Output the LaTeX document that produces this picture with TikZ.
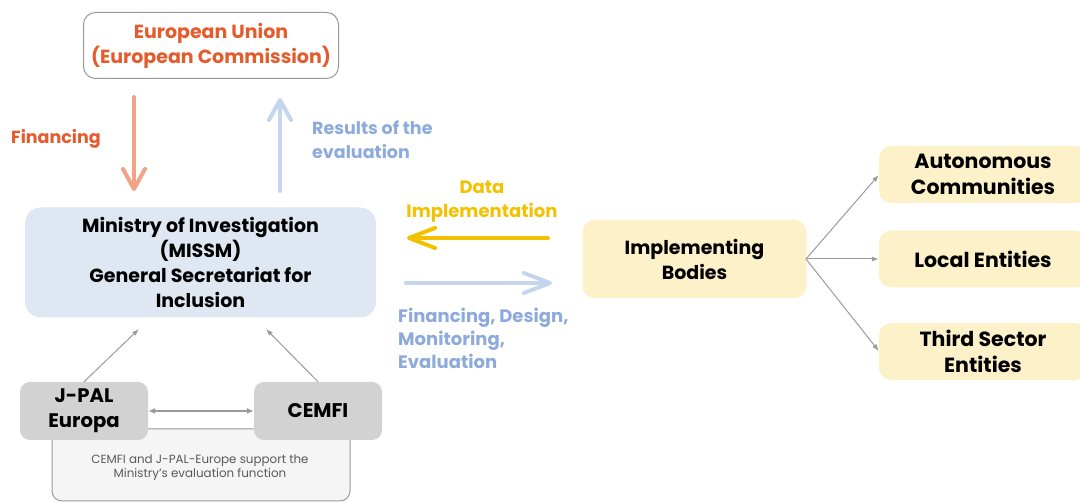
\documentclass[tikz,border=0pt]{standalone}
\usepackage{fontspec}
\setmainfont{Poppins}
\usetikzlibrary{arrows.meta}
\definecolor{euorange}{HTML}{E55B2B}
\definecolor{finarrow}{HTML}{F0A386}
\definecolor{resarrow}{HTML}{C5D5EE}
\definecolor{restext}{HTML}{8DAADC}
\definecolor{minfill}{HTML}{DFE7F3}
\definecolor{yel}{HTML}{F2C200}
\definecolor{impfill}{HTML}{FDF1C9}
\definecolor{greybox}{HTML}{D2D2D2}
\definecolor{botfill}{HTML}{F5F5F5}
\definecolor{lgrey}{HTML}{9A9A9A}
\begin{document}
\begin{tikzpicture}[x=1pt,y=-1pt,
  lbl/.style={font=\bfseries\fontsize{17.5}{24}\selectfont, align=center, inner sep=0pt},
  boxn/.style={rounded corners=12pt, inner sep=0pt, align=center},
  bigarrow/.style={line width=4pt, line cap=round, -{Straight Barb[length=20pt,width=22pt,line cap=round,line join=round]}},
  hbigarrow/.style={line width=4pt, line cap=round, -{Straight Barb[length=26pt,width=20pt,line cap=round,line join=round]}},
  thin/.style={draw=lgrey, line width=1pt, -{Latex[length=7pt,width=5pt]}}
]
\useasboundingbox (0,0) rectangle (1080,502);
\clip (0,0) rectangle (1080,502);
% EU
\node[boxn, draw=lgrey, line width=1pt, fill=white, minimum width=255pt, minimum height=66pt, text=euorange, font=\bfseries\fontsize{19}{25}\selectfont] (eu) at (211,45.5) {\raisebox{-1.5pt}{European Union}\\\raisebox{-1.5pt}{(European Commission)}};
% Ministry
\node[boxn, rounded corners=16pt, fill=minfill, minimum width=351pt, minimum height=110pt, font=\bfseries\fontsize{19}{25}\selectfont] (min) at (200.5,262.5) {Ministry of Investigation\\(MISSM)\\General Secretariat for\\Inclusion};
% vertical arrows
\coordinate (f1) at (134,97); \coordinate (f2) at (134,191);
\coordinate (r1) at (280,191); \coordinate (r2) at (280,98);
\draw[bigarrow, finarrow] (f1) -- (f2);
\draw[bigarrow, resarrow] (r1) -- (r2);
\node[lbl, text=euorange, anchor=west] (finl) at (11,139) {Financing};
\node[lbl, text=restext, anchor=west, align=left] (resl) at (312,140) {Results of the\\evaluation};
% Implementing
\node[boxn, fill=impfill, minimum width=224pt, minimum height=78pt, font=\bfseries\fontsize{19}{25}\selectfont] (imp) at (694.5,259) {Implementing\\Bodies};
% horizontal arrows
\coordinate (y1) at (548,238); \coordinate (y2) at (407,238);
\coordinate (b1) at (406,283); \coordinate (b2) at (552,283);
\draw[hbigarrow, yel] (y1) -- (y2);
\draw[hbigarrow, resarrow] (b1) -- (b2);
\node[lbl, text=yel, font=\bfseries\fontsize{18}{24}\selectfont] (datal) at (482,202) {Data\\Implementation};
\node[lbl, text=restext, anchor=north west, align=left, font=\bfseries\fontsize{18}{23.3}\selectfont] (fdl) at (398,307.5) {Financing, Design,\\Monitoring,\\Evaluation};
% right boxes
\node[boxn, fill=impfill, minimum width=208pt, minimum height=57pt, font=\bfseries\fontsize{20.5}{26.5}\selectfont] (auto) at (983,174.5) {Autonomous\\Communities};
\node[boxn, fill=impfill, minimum width=208pt, minimum height=57pt, font=\bfseries\fontsize{20.5}{26.5}\selectfont] (loc) at (983,259) {Local Entities};
\node[boxn, fill=impfill, minimum width=208pt, minimum height=57pt, font=\bfseries\fontsize{20.5}{26.5}\selectfont] (third) at (983,351.5) {Third Sector\\Entities};
\coordinate (fan) at (806,259);
\draw[thin] (fan) -- (auto.west |- 0,175);
\draw[thin] (fan) -- (loc.west);
\draw[thin] (fan) -- (third.west |- 0,351);
% bottom box
\node[boxn, rounded corners=10pt, draw=lgrey, line width=1pt, fill=botfill, minimum width=298pt, minimum height=72pt] (bot) at (201,465) {};
\node[inner sep=0pt, align=center, text=black!65, font=\fontsize{11.9}{13.5}\selectfont] (botl) at (200,467.5) {CEMFI and J-PAL-Europe support the\\Ministry's evaluation function};
% J-PAL & CEMFI
\node[boxn, rounded corners=10pt, fill=greybox, minimum width=128pt, minimum height=58pt, font=\bfseries\fontsize{19.6}{25}\selectfont] (jpal) at (84,411) {J-PAL\\Europa};
\node[boxn, rounded corners=10pt, fill=greybox, minimum width=128pt, minimum height=58pt, font=\bfseries\fontsize{19.8}{25}\selectfont] (cemfi) at (318,411) {CEMFI};
\draw[draw=lgrey, line width=1.2pt, {Latex[length=7pt,width=6pt]}-{Latex[length=7pt,width=6pt]}] (jpal.east |- 0,411) -- (cemfi.west |- 0,411);
\coordinate (m1) at (139,329); \coordinate (m2) at (266,329);
\draw[thin] (jpal.north) -- (m1);
\draw[thin] (cemfi.north) -- (m2);
\end{tikzpicture}
\end{document}
